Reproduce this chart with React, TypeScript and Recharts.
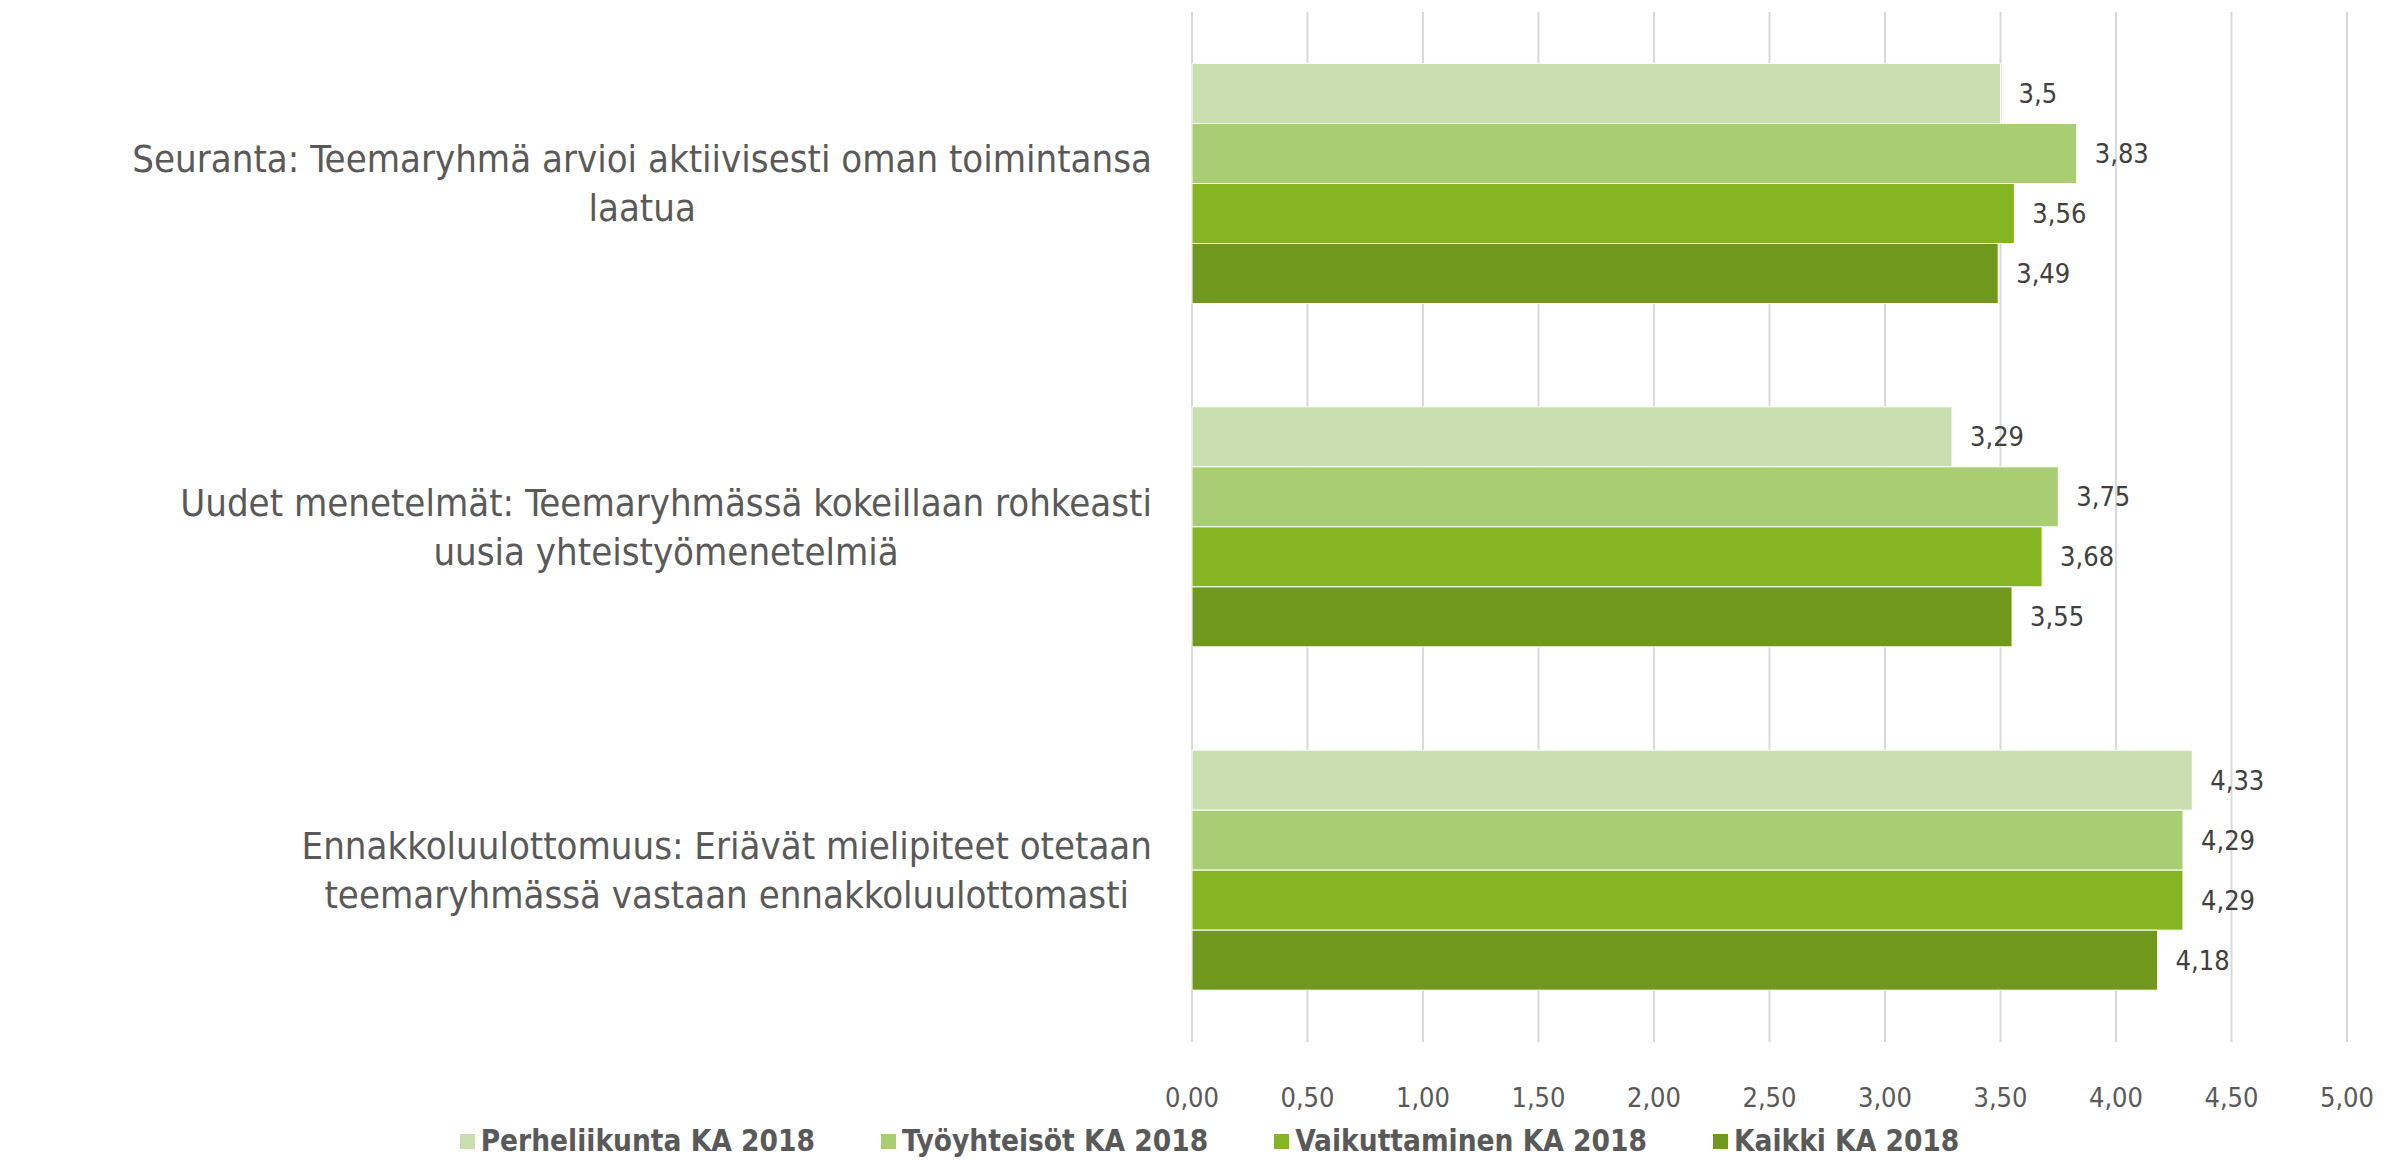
import React from "react";
import {
  BarChart,
  Bar,
  XAxis,
  YAxis,
  CartesianGrid,
  Legend,
  LabelList,
} from "recharts";

const categories = [
  "Seuranta: Teemaryhmä arvioi aktiivisesti oman toimintansa\nlaatua",
  "Uudet menetelmät: Teemaryhmässä kokeillaan rohkeasti\nuusia yhteistyömenetelmiä",
  "Ennakkoluulottomuus: Eriävät mielipiteet otetaan\nteemaryhmässä vastaan ennakkoluulottomasti",
];

const seriesNames = [
  "Perheliikunta KA 2018",
  "Työyhteisöt KA 2018",
  "Vaikuttaminen KA 2018",
  "Kaikki KA 2018",
];

const perheliikunta = [3.5, 3.29, 4.33];
const tyoyhteisot = [3.83, 3.75, 4.29];
const vaikuttaminen = [3.56, 3.68, 4.29];
const kaikki = [3.49, 3.55, 4.18];

const xTicks = [0, 0.5, 1, 1.5, 2, 2.5, 3, 3.5, 4, 4.5, 5];

const colors = ["#C9DFB0", "#A9CD72", "#86B524", "#70981D"];

const FONT = "'DejaVu Sans Condensed', 'Liberation Sans Narrow', 'Open Sans', sans-serif";
const LABEL_SIZE = 38;

const data = categories.map((name, i) => ({
  name,
  s0: perheliikunta[i],
  s1: tyoyhteisot[i],
  s2: vaikuttaminen[i],
  s3: kaikki[i],
}));

let ctx: CanvasRenderingContext2D | null = null;
const measure = (t: string) => {
  if (!ctx) ctx = document.createElement("canvas").getContext("2d");
  if (!ctx) return t.length * LABEL_SIZE * 0.45;
  ctx.font = `${LABEL_SIZE}px ${FONT}`;
  return ctx.measureText(t).width;
};

const CategoryTick = (props: any) => {
  const { x, y, payload } = props;
  const lines: string[] = String(payload.value).split("\n");
  const w = Math.max(...lines.map(measure));
  const cx = x - w / 2;
  const lh = 49;
  return (
    <g>
      {lines.map((l, i) => (
        <text
          key={i}
          x={cx}
          y={y + (i - (lines.length - 1) / 2) * lh}
          dy="0.35em"
          textAnchor="middle"
          fill="#595959"
          fontSize={LABEL_SIZE}
          fontFamily={FONT}
        >
          {l}
        </text>
      ))}
    </g>
  );
};

const fmt = (v: any) => String(v).replace(".", ",");

const renderLegend = () => (
  <div
    style={{
      display: "flex",
      justifyContent: "center",
      height: 38,
      lineHeight: "38px",
      paddingLeft: 72,
      fontFamily: FONT,
      fontWeight: "bold",
      fontSize: 29.5,
      color: "#595959",
    }}
  >
    {seriesNames.map((n, i) => (
      <span key={n} style={{ display: "flex", alignItems: "center", marginRight: i < 3 ? 66 : 0 }}>
        <span
          style={{ width: 15, height: 15, background: colors[i], marginRight: 6, display: "inline-block" }}
        />
        {n}
      </span>
    ))}
  </div>
);

export default function App() {
  return (
    <div style={{ position: "absolute", left: 0, top: 0, background: "#fff" }}>
      <BarChart
        width={2402}
        height={1160}
        data={data}
        layout="vertical"
        margin={{ top: 12, right: 55, left: 0, bottom: 0 }}
        barCategoryGap="15%"
        barGap={0}
      >
        <CartesianGrid horizontal={false} stroke="#d9d9d9" strokeWidth={2} />
        <XAxis
          type="number"
          domain={[0, 5]}
          ticks={xTicks}
          tickFormatter={(v: number) => v.toFixed(2).replace(".", ",")}
          axisLine={false}
          tickLine={false}
          tickSize={0}
          tickMargin={46}
          height={80}
          tick={{ fill: "#595959", fontSize: 27, fontFamily: FONT }}
          interval={0}
        />
        <YAxis
          type="category"
          dataKey="name"
          width={1192}
          axisLine={false}
          tickLine={false}
          tickSize={0}
          tickMargin={40}
          tick={<CategoryTick />}
          interval={0}
        />
        <Legend verticalAlign="bottom" content={renderLegend} />
        {["s0", "s1", "s2", "s3"].map((k, i) => (
          <Bar key={k} dataKey={k} name={seriesNames[i]} fill={colors[i]} stroke="#ffffff" strokeWidth={1} isAnimationActive={false}>
            <LabelList
              dataKey={k}
              position="right"
              offset={18}
              formatter={fmt}
              fill="#404040"
              fontSize={27}
              fontFamily={FONT}
            />
          </Bar>
        ))}
      </BarChart>
    </div>
  );
}
